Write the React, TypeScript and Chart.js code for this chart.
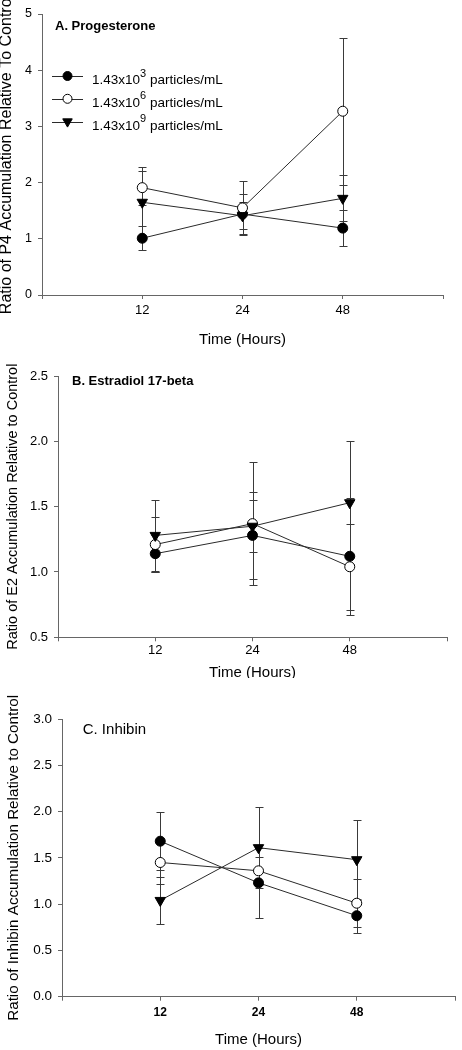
import React, { useEffect, useRef } from 'react';
import { Chart, registerables } from 'chart.js';

Chart.register(...registerables);

// ---------- data ----------
const HOURS = ['12', '24', '48'];
const X_TITLE = 'Time (Hours)';

const LEGEND_BASE = '1.43x10';
const LEGEND_EXP = ['3', '6', '9'];
const LEGEND_UNIT = 'particles/mL';

// Panel A: Progesterone (P4)
const P4_LABEL = 'A. Progesterone';
const P4_Y_TITLE = 'Ratio of P4 Accumulation Relative To Control';
const P4_Y_TICKS = [0, 1, 2, 3, 4, 5];
const P4_LOW = [1.01, 1.44, 1.19];
const P4_LOW_ERR = [0.21, 0.35, 0.32];
const P4_MID = [1.91, 1.55, 3.27];
const P4_MID_ERR = [0.3, 0.48, 1.31];
const P4_HIGH = [1.65, 1.41, 1.72];
const P4_HIGH_ERR = [0.62, 0.24, 0.41];

// Panel B: Estradiol (E2)
const E2_LABEL = 'B. Estradiol 17-beta';
const E2_Y_TITLE = 'Ratio of E2 Accumulation Relative to Control';
const E2_Y_TICKS = [0.5, 1.0, 1.5, 2.0, 2.5];
const E2_LOW = [1.14, 1.28, 1.12];
const E2_LOW_ERR = [0.14, 0.33, 0.45];
const E2_MID = [1.21, 1.37, 1.04];
const E2_MID_ERR = [0.21, 0.47, 0.33];
const E2_HIGH = [1.28, 1.35, 1.53];
const E2_HIGH_ERR = [0.27, 0.2, 0.47];

// Panel C: Inhibin
const INH_LABEL = 'C. Inhibin';
const INH_Y_TITLE = 'Ratio of Inhibin Accumulation Relative to Control';
const INH_Y_TICKS = [0, 0.5, 1.0, 1.5, 2.0, 2.5, 3.0];
const INH_LOW = [1.68, 1.23, 0.875];
const INH_LOW_ERR = [0.31, 0.38, 0.185];
const INH_MID = [1.45, 1.36, 1.01];
const INH_MID_ERR = [0.23, 0.15, 0.26];
const INH_HIGH = [1.04, 1.61, 1.48];
const INH_HIGH_ERR = [0.25, 0.44, 0.43];

// ---------- styling ----------
const FONT = "'Liberation Sans', Arial, Helvetica, sans-serif";
const AXIS_COLOR = '#666';
const LINE_COLOR = '#2a2a2a';
const ERR_COLOR = '#3a3a3a';

type MarkerKind = 'filled' | 'open' | 'tri';
const SERIES_KINDS: MarkerKind[] = ['filled', 'open', 'tri'];

function drawMarker(ctx: CanvasRenderingContext2D, kind: MarkerKind, x: number, y: number, r: number) {
  ctx.save();
  ctx.lineWidth = 1;
  ctx.strokeStyle = '#000';
  ctx.beginPath();
  if (kind === 'tri') {
    for (let k = 0; k < 3; k++) {
      const a = Math.PI + (k * 2 * Math.PI) / 3;
      const px = x + Math.sin(a) * r;
      const py = y - Math.cos(a) * r;
      if (k === 0) ctx.moveTo(px, py);
      else ctx.lineTo(px, py);
    }
    ctx.closePath();
    ctx.fillStyle = '#000';
  } else {
    ctx.arc(x, y, r, 0, Math.PI * 2);
    ctx.fillStyle = kind === 'filled' ? '#000' : '#fff';
  }
  ctx.fill();
  ctx.stroke();
  ctx.restore();
}

const errorBarsPlugin = {
  id: 'errorBars',
  beforeDatasetsDraw(chart: any) {
    const ctx = chart.ctx as CanvasRenderingContext2D;
    const xs = chart.scales.x;
    const ys = chart.scales.y;
    ctx.save();
    ctx.strokeStyle = ERR_COLOR;
    ctx.lineWidth = 1;
    chart.data.datasets.forEach((ds: any) => {
      const errs: number[] = ds.errors;
      if (!errs) return;
      ds.data.forEach((p: any, i: number) => {
        const x = Math.round(xs.getPixelForValue(p.x)) + 0.5;
        const yT = Math.round(ys.getPixelForValue(p.y + errs[i])) + 0.5;
        const yB = Math.round(ys.getPixelForValue(p.y - errs[i])) + 0.5;
        ctx.beginPath();
        ctx.moveTo(x, yT);
        ctx.lineTo(x, yB);
        ctx.moveTo(x - 4, yT);
        ctx.lineTo(x + 4, yT);
        ctx.moveTo(x - 4, yB);
        ctx.lineTo(x + 4, yB);
        ctx.stroke();
      });
    });
    ctx.restore();
  },
};

const decorPlugin = {
  id: 'decor',
  afterDraw(chart: any, _args: any, opts: any) {
    const ctx = chart.ctx as CanvasRenderingContext2D;
    ctx.save();
    ctx.fillStyle = '#000';
    ctx.textBaseline = 'alphabetic';
    ctx.textAlign = 'left';
    ctx.font = opts.labelFont;
    ctx.fillText(opts.label, opts.labelX, opts.labelY);
    if (opts.legend) {
      const lx0 = 52;
      const lx1 = 83;
      const mx = 67.5;
      const tx = 92;
      SERIES_KINDS.forEach((kind, i) => {
        const y = 76 + i * 22.8;
        ctx.strokeStyle = LINE_COLOR;
        ctx.lineWidth = 1;
        ctx.beginPath();
        ctx.moveTo(lx0, Math.round(y) + 0.5);
        ctx.lineTo(lx1, Math.round(y) + 0.5);
        ctx.stroke();
        drawMarker(ctx, kind, mx, y, kind === 'tri' ? 5.5 : 4.5);
        ctx.fillStyle = '#000';
        ctx.font = `13.5px ${FONT}`;
        ctx.fillText(LEGEND_BASE, tx, y + 8);
        let x = tx + ctx.measureText(LEGEND_BASE).width;
        ctx.font = `11px ${FONT}`;
        ctx.fillText(LEGEND_EXP[i], x, y + 0.5);
        x += ctx.measureText(LEGEND_EXP[i]).width;
        ctx.font = `13.5px ${FONT}`;
        ctx.fillText(' ' + LEGEND_UNIT, x, y + 8);
      });
    }
    ctx.restore();
  },
};

interface PanelCfg {
  top: number;
  height: number;
  area: { left: number; right: number; top: number; bottom: number };
  yMin: number;
  yMax: number;
  yTicks: number[];
  decimals: number;
  yTitle: string;
  yTitleSize: number;
  yTitleLH: number;
  yTitlePad: number;
  yTickSize: number;
  xTickFont: any;
  xTickPad: number;
  xTitleLH: number;
  xTitlePad: number;
  label: string;
  labelFont: string;
  labelX: number;
  labelY: number;
  legend: boolean;
  series: number[][];
  errors: number[][];
}

const PANELS: PanelCfg[] = [
  {
    top: 0,
    height: 350,
    area: { left: 42, right: 443, top: 14, bottom: 295 },
    yMin: 0,
    yMax: 5,
    yTicks: P4_Y_TICKS,
    decimals: 0,
    yTitle: P4_Y_TITLE,
    yTitleSize: 16,
    yTitleLH: 0.8,
    yTitlePad: 0,
    yTickSize: 12.5,
    xTickFont: { size: 13 },
    xTickPad: 3.7,
    xTitleLH: 1.2,
    xTitlePad: 1,
    label: P4_LABEL,
    labelFont: `bold 13px ${FONT}`,
    labelX: 55,
    labelY: 29.5,
    legend: true,
    series: [P4_LOW, P4_MID, P4_HIGH],
    errors: [P4_LOW_ERR, P4_MID_ERR, P4_HIGH_ERR],
  },
  {
    top: 350,
    height: 328,
    area: { left: 58, right: 447, top: 26, bottom: 287.3 },
    yMin: 0.5,
    yMax: 2.5,
    yTicks: E2_Y_TICKS,
    decimals: 1,
    yTitle: E2_Y_TITLE,
    yTitleSize: 14.5,
    yTitleLH: 1.2,
    yTitlePad: 3.8,
    yTickSize: 13,
    xTickFont: { size: 13 },
    xTickPad: 1,
    xTitleLH: 0.7,
    xTitlePad: 0,
    label: E2_LABEL,
    labelFont: `bold 13px ${FONT}`,
    labelX: 72,
    labelY: 35,
    legend: false,
    series: [E2_LOW, E2_MID, E2_HIGH],
    errors: [E2_LOW_ERR, E2_MID_ERR, E2_HIGH_ERR],
  },
  {
    top: 678,
    height: 372,
    area: { left: 62, right: 460, top: 41, bottom: 318.7 },
    yMin: 0,
    yMax: 3,
    yTicks: INH_Y_TICKS,
    decimals: 1,
    yTitle: INH_Y_TITLE,
    yTitleSize: 15.2,
    yTitleLH: 1.2,
    yTitlePad: 4.9,
    yTickSize: 13.5,
    xTickFont: { size: 12, weight: 'bold' },
    xTickPad: 4.6,
    xTitleLH: 1.2,
    xTitlePad: 1,
    label: INH_LABEL,
    labelFont: `15px ${FONT}`,
    labelX: 82.7,
    labelY: 56.3,
    legend: false,
    series: [INH_LOW, INH_MID, INH_HIGH],
    errors: [INH_LOW_ERR, INH_MID_ERR, INH_HIGH_ERR],
  },
];

const SERIES_STYLE: Record<MarkerKind, any> = {
  filled: { pointStyle: 'circle', pointRadius: 5, pointBackgroundColor: '#000', pointBorderColor: '#000', order: 3 },
  open: { pointStyle: 'circle', pointRadius: 5, pointBackgroundColor: '#fff', pointBorderColor: '#000', order: 2 },
  tri: { pointStyle: 'triangle', pointRadius: 6, pointRotation: 180, pointBackgroundColor: '#000', pointBorderColor: '#000', order: 1 },
};

function Panel({ cfg }: { cfg: PanelCfg }) {
  const ref = useRef<HTMLCanvasElement>(null);
  useEffect(() => {
    if (!ref.current) return;
    const a = cfg.area;
    const datasets = cfg.series.map((vals, si) => {
      const kind = SERIES_KINDS[si];
      return {
        label: LEGEND_BASE + LEGEND_EXP[si] + ' ' + LEGEND_UNIT,
        data: vals.map((v, i) => ({ x: i + 1, y: v })),
        errors: cfg.errors[si],
        borderColor: LINE_COLOR,
        borderWidth: 1,
        pointBorderWidth: 1,
        tension: 0,
        fill: false,
        clip: false,
        ...SERIES_STYLE[kind],
      };
    });
    const chart = new Chart(ref.current, {
      type: 'line',
      data: { datasets: datasets as any },
      plugins: [errorBarsPlugin, decorPlugin],
      options: {
        responsive: false,
        animation: false,
        devicePixelRatio: 1,
        layout: { padding: { top: a.top, right: 462 - a.right, left: 0, bottom: 0 } },
        plugins: {
          legend: { display: false },
          tooltip: { enabled: false },
          decor: {
            label: cfg.label,
            labelFont: cfg.labelFont,
            labelX: cfg.labelX,
            labelY: cfg.labelY,
            legend: cfg.legend,
          },
        } as any,
        scales: {
          x: {
            type: 'linear',
            min: 0,
            max: HOURS.length + 1,
            afterBuildTicks: (s: any) => {
              s.ticks = [0, ...HOURS.map((_, i) => i + 1), HOURS.length + 1].map((v) => ({ value: v }));
            },
            afterFit: (s: any) => {
              s.height = cfg.height - a.bottom;
            },
            grid: { drawOnChartArea: false, drawTicks: true, tickLength: 4, color: AXIS_COLOR },
            border: { display: true, color: AXIS_COLOR, width: 1 },
            ticks: {
              autoSkip: false,
              maxRotation: 0,
              color: '#000',
              padding: cfg.xTickPad,
              font: { family: FONT, ...cfg.xTickFont },
              callback: (v: any) => HOURS[Number(v) - 1] ?? '',
            },
            title: {
              display: true,
              text: X_TITLE,
              color: '#000',
              font: { family: FONT, size: 15, lineHeight: cfg.xTitleLH },
              padding: { top: 0, bottom: cfg.xTitlePad },
            },
          },
          y: {
            type: 'linear',
            min: cfg.yMin,
            max: cfg.yMax,
            afterBuildTicks: (s: any) => {
              s.ticks = cfg.yTicks.map((v) => ({ value: v }));
            },
            afterFit: (s: any) => {
              s.width = a.left;
            },
            grid: { drawOnChartArea: false, drawTicks: true, tickLength: 4, color: AXIS_COLOR },
            border: { display: true, color: AXIS_COLOR, width: 1 },
            ticks: {
              color: '#000',
              padding: 6,
              font: { family: FONT, size: cfg.yTickSize },
              callback: (v: any) => Number(v).toFixed(cfg.decimals),
            },
            title: {
              display: true,
              text: cfg.yTitle,
              color: '#000',
              font: { family: FONT, size: cfg.yTitleSize, lineHeight: cfg.yTitleLH },
              padding: { top: cfg.yTitlePad, bottom: 0 },
            },
          },
        },
      } as any,
    });
    return () => chart.destroy();
  }, [cfg]);
  return (
    <canvas
      ref={ref}
      width={462}
      height={cfg.height}
      style={{ position: 'absolute', left: 0, top: cfg.top, width: 462, height: cfg.height, display: 'block' }}
    />
  );
}

export default function App() {
  return (
    <div style={{ position: 'absolute', left: 0, top: 0, width: 462, height: 1050, background: '#fff', overflow: 'hidden' }}>
      {PANELS.map((p, i) => (
        <Panel key={i} cfg={p} />
      ))}
    </div>
  );
}
